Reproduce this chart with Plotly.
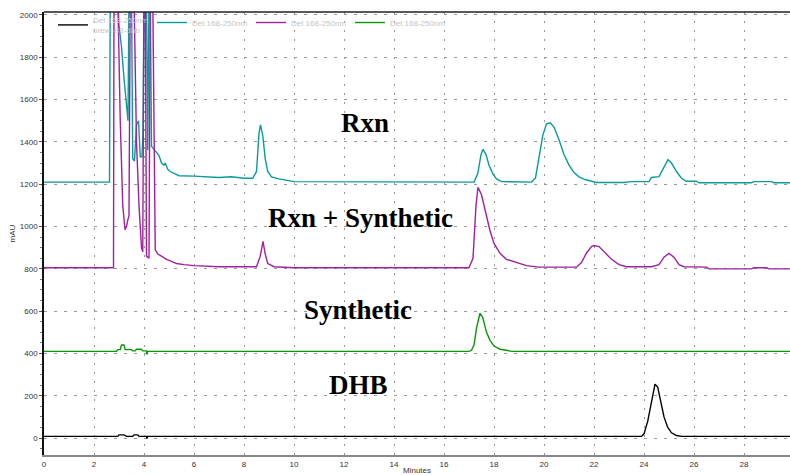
import plotly.graph_objects as go

# ---- data (time in minutes, absorbance in mAU) ----
dhb_t = [0, 2.95, 3.0, 3.2, 3.3, 3.55, 3.6, 3.75, 3.8, 4.1, 4.12, 4.15, 23.9, 24.0, 24.15, 24.3, 24.44,
         24.55, 24.65, 24.8, 24.95, 25.1, 25.3, 25.5, 30]
dhb_v = [8, 8, 15, 15, 8, 8, 15, 15, 8, 8, -2, 8, 8, 20, 80, 180, 255,
         240, 180, 100, 50, 25, 12, 8, 8]

rxn_t = [0, 2.62, 2.65, 2.95, 3.0, 3.1, 3.2, 3.3, 3.36, 3.4, 3.5, 3.55, 3.62, 3.7, 3.78, 3.85, 3.92, 3.96,
         4.0, 4.1, 4.15, 4.2, 4.25, 4.3, 4.4, 4.5, 4.6, 4.7, 4.8, 4.85, 4.95, 5.05, 5.2, 5.4, 6.0, 7.0,
         7.5, 8.0, 8.35, 8.5, 8.6, 8.66, 8.75, 8.85, 8.95, 9.1, 9.4, 9.8, 10.0, 17.2, 17.35, 17.48, 17.56,
         17.68, 17.8, 17.95, 18.1, 18.3, 19.5, 19.66, 19.8, 19.95, 20.1, 20.25, 20.4, 20.6, 20.8, 21.0,
         21.2, 21.4, 21.64, 22.0, 22.1, 23.2, 23.5, 24.2, 24.3, 24.6, 24.75, 24.96, 25.1, 25.3, 25.5,
         25.7, 26.1, 26.2, 28.3, 28.4, 29.1, 29.2, 30]
rxn_v = [1210, 1210, 2100, 2100, 1950, 1850, 1700, 1550, 1500, 2100, 2100, 1320, 1310, 1480, 1500, 1330,
         1330, 1450, 2100, 2100, 1360, 2100, 2100, 1380, 1365, 1350, 1335, 1300, 1290, 1300, 1270, 1260,
         1250, 1240, 1238, 1232, 1235, 1228, 1228, 1260, 1440, 1480, 1430, 1320, 1260, 1235, 1225, 1215,
         1212, 1210, 1250, 1340, 1365, 1340, 1290, 1250, 1225, 1212, 1210, 1230, 1320, 1430, 1485, 1490,
         1470, 1410, 1340, 1290, 1255, 1235, 1222, 1212, 1208, 1208, 1212, 1212, 1232, 1236, 1270, 1316,
         1300, 1260, 1228, 1214, 1214, 1207, 1207, 1212, 1212, 1207, 1207]

mix_t = [0, 2.78, 2.8, 2.95, 3.05, 3.15, 3.24, 3.3, 3.35, 3.4, 3.45, 3.6, 3.7, 3.8, 3.9, 3.95, 4.0, 4.05,
         4.1, 4.2, 4.25, 4.35, 4.45, 4.55, 4.7, 4.9, 5.1, 5.3, 5.6, 6.0, 7.0, 8.0, 8.5, 8.65, 8.76, 8.85,
         8.95, 9.2, 10.0, 17.0, 17.16, 17.28, 17.36, 17.5, 17.7, 17.84, 18.0, 18.24, 18.5, 18.9, 19.3,
         19.8, 21.3, 21.5, 21.7, 21.9, 22.0, 22.2, 22.4, 22.7, 23.0, 23.3, 24.3, 24.6, 24.8, 25.0, 25.2,
         25.4, 25.6, 26.5, 26.6, 28.3, 28.4, 28.9, 29.0, 30]
mix_v = [805, 805, 2100, 2100, 1500, 1100, 985, 1000, 1030, 1050, 2100, 2100, 1400, 1100, 900, 880, 2100,
         2100, 860, 850, 2100, 2100, 890, 870, 860, 845, 835, 825, 820, 815, 810, 808, 810, 860, 930, 870,
         825, 810, 805, 805, 850, 1100, 1185, 1150, 1050, 980, 920, 873, 845, 830, 815, 808, 808, 830,
         875, 905, 910, 905, 880, 845, 820, 810, 810, 820, 855, 873, 855, 820, 810, 808, 800, 800, 805,
         805, 800, 800]

syn_t = [0, 2.9, 2.95, 3.05, 3.1, 3.2, 3.25, 3.5, 3.55, 3.65, 3.7, 3.9, 3.95, 4.1, 4.12, 4.15, 17.0, 17.1,
         17.2, 17.3, 17.44, 17.55, 17.7, 17.84, 18.0, 18.24, 18.5, 18.7, 30]
syn_v = [410, 410, 418, 418, 440, 440, 418, 418, 412, 412, 420, 420, 412, 412, 395, 410, 410, 415, 440,
         520, 590, 570, 500, 462, 435, 420, 415, 410, 410]

legend_names = ["Det 168-250nm<br>brewl-83-dhb", "Det 168-250nm", "Det 168-250nm", "Det 168-250nm"]
labels = ["Rxn", "Rxn + Synthetic", "Synthetic", "DHB"]
label_x = [12.84, 12.64, 12.56, 12.56]
label_y = [1490, 1038, 604, 250]
x_ticks = list(range(0, 30, 2))
y_ticks = list(range(0, 2001, 200))

fig = go.Figure()
series = [(dhb_t, dhb_v, "#000000"), (rxn_t, rxn_v, "#0a9a9a"),
          (mix_t, mix_v, "#a0209f"), (syn_t, syn_v, "#0a960a")]
for (t, v, c), name in zip(series, legend_names):
    fig.add_trace(go.Scatter(x=t, y=v, mode="lines", name=name,
                             line=dict(color=c, width=1.4)))

for txt, xx, yy in zip(labels, label_x, label_y):
    fig.add_annotation(x=xx, y=yy, text="<b>%s</b>" % txt, showarrow=False,
                       font=dict(family="Liberation Serif", size=27, color="black"))

fig.add_shape(type="line", xref="paper", yref="paper", x0=0, x1=1, y0=1, y1=1,
              line=dict(color="#222", width=1.5))

fig.update_layout(
    width=790, height=475,
    margin=dict(l=44, r=0, t=12, b=20),
    plot_bgcolor="white", paper_bgcolor="white",
    font=dict(family="Liberation Sans", size=8, color="#333"),
    showlegend=True,
    legend=dict(orientation="h", x=0.012, y=1.009, xanchor="left", yanchor="top",
                bgcolor="rgba(0,0,0,0)", font=dict(size=8, color="#c4c4c4"),
                entrywidth=54, entrywidthmode="pixels", itemwidth=30,
                tracegroupgap=0),
    xaxis=dict(range=[0, 29.84], tickvals=x_ticks, ticks="", showline=True,
               linecolor="#888", linewidth=2, zeroline=False,
               showgrid=True, gridcolor="#999", gridwidth=1, griddash="2px,7px",
               title=dict(text="Minutes", font=dict(size=8), standoff=0),
               tickfont=dict(size=8)),
    yaxis=dict(range=[-80, 2014], tickvals=y_ticks, ticks="outside", ticklen=3,
               tickcolor="#555", showline=True, linecolor="#111", linewidth=1.5,
               zeroline=False, showgrid=True, gridcolor="#999", gridwidth=1,
               griddash="3px,7px",
               minor=dict(dtick=50, ticks="outside", ticklen=2, tickcolor="#777", showgrid=False),
               title=dict(text="mAU", font=dict(size=8), standoff=3),
               tickfont=dict(size=8)),
)

fig.write_html("out.html")
